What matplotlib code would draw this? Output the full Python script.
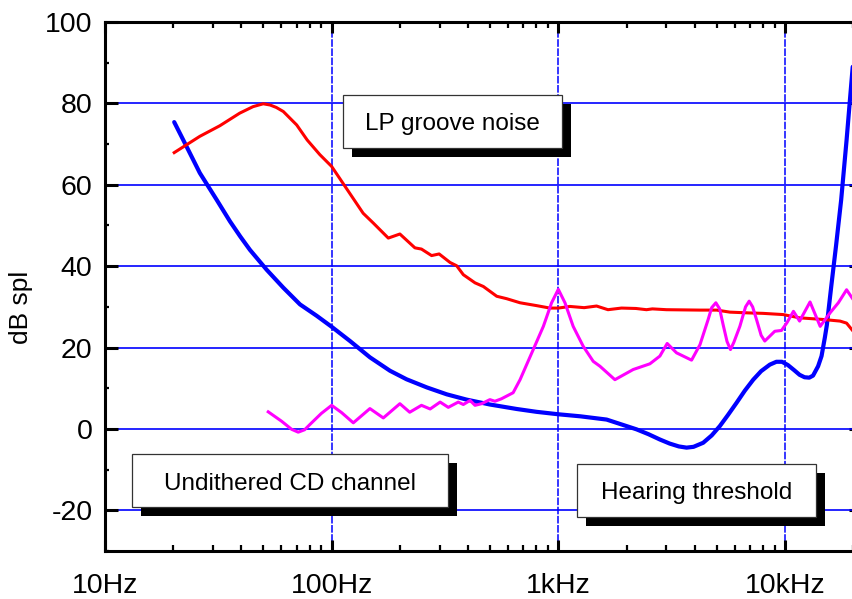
import matplotlib
matplotlib.use("Agg")
import matplotlib.pyplot as plt
from matplotlib.patches import Rectangle
from matplotlib.ticker import FixedLocator, FixedFormatter, MultipleLocator, LogLocator, NullFormatter

plt.rcParams['font.family'] = ['Liberation Sans', 'DejaVu Sans']
plt.rcParams['axes.unicode_minus'] = False

# ---------------- data ----------------
threshold_freq = [20.2, 22.9, 26.2, 31.1, 35.6, 39.5, 43.6, 51.7, 61.2, 72.5, 85.9, 100, 120.5,
                  147.5, 180.8, 214, 263, 322, 394, 499, 655, 802, 1000, 1250, 1633,
                  2213, 2500, 2806, 3100, 3400, 3680, 3950, 4357, 4750, 5160, 5600, 6112,
                  6650, 7244, 7850, 8576, 9164, 9700, 10300, 11000, 11600, 12200, 12800,
                  13300, 14000, 14500, 15000, 15300, 16000, 16800, 17700, 18700, 19900]
threshold_db = [75.4, 69.4, 62.9, 56.3, 51.0, 47.3, 44.0, 39.1, 34.7, 30.6, 27.8, 25.1, 21.6,
                17.6, 14.3, 12.2, 10.2, 8.5, 7.2, 6.0, 4.9, 4.2, 3.6, 3.1, 2.3,
                -0.1, -1.3, -2.6, -3.6, -4.3, -4.6, -4.4, -3.4, -1.6, 0.7, 3.4, 6.4,
                9.4, 12.1, 14.2, 15.8, 16.5, 16.5, 15.7, 14.4, 13.3, 12.7, 12.6,
                13.1, 15.4, 17.9, 22.5, 25.5, 35.0, 45.0, 56.3, 71.0, 89.0]

lp_freq = [20.2, 26.2, 32.1, 39.3, 45.0, 49.9, 53.5, 57.0, 61.2, 70.1, 78.0, 88.7, 100, 114.6, 137.7,
           152.6, 177.8, 200, 233, 249, 276, 298, 333, 356, 381, 429, 467, 535, 592,
           678, 802, 918, 1000, 1125, 1300, 1475, 1656, 1900, 2200, 2449, 2600, 3000,
           4217, 5000, 5715, 7000, 8000, 9820, 11600, 14700, 17500, 18700, 20000]
lp_db = [67.9, 71.9, 74.5, 77.6, 79.2, 79.9, 79.6, 79.0, 78.0, 74.7, 71.0, 67.4, 64.5, 59.6, 53.0,
         50.6, 46.9, 47.9, 44.5, 44.2, 42.6, 43.0, 40.9, 40.1, 37.9, 35.9, 35.0, 32.6, 32.0,
         31.0, 30.3, 29.7, 29.7, 30.1, 29.8, 30.2, 29.3, 29.7, 29.6, 29.3, 29.5, 29.3,
         29.2, 29.2, 28.7, 28.5, 28.4, 28.1, 27.3, 26.9, 26.5, 26.0, 24.0]

cd_freq = [52.5, 60.1, 66.6, 71.2, 76.0, 80.2, 90.0, 100, 110.7, 124.6, 147.5, 169, 200, 221, 249, 272,
           301, 327, 362, 381, 408, 429, 459, 499, 525, 561, 632, 678, 775, 859, 934,
           1000, 1070, 1163, 1288, 1426, 1527, 1777, 2140, 2535, 2806, 3022, 3323, 3872,
           4217, 4583, 4750, 4955, 5150, 5336, 5550, 5749, 5950, 6323, 6700, 6951, 7200,
           7488, 7850, 8145, 8500, 9016, 9652, 10200, 10900, 11600, 12900, 14300, 15800,
           17200, 18700, 20000]
cd_db = [4.2, 1.9, -0.1, -0.8, -0.2, 1.1, 3.8, 5.8, 4.0, 1.5, 5.0, 2.7, 6.2, 4.1, 5.8, 4.9,
         6.6, 5.3, 6.6, 6.0, 7.0, 5.8, 6.2, 7.2, 6.8, 7.4, 8.9, 12.1, 19.5, 25.2, 31.0,
         34.3, 31.0, 25.2, 20.3, 16.6, 15.4, 12.1, 14.6, 16.0, 17.9, 21.0, 18.7, 16.9,
         20.7, 26.9, 29.8, 31.0, 29.5, 25.6, 21.5, 19.5, 21.3, 25.2, 30.0, 31.4, 30.0,
         26.9, 23.0, 21.6, 22.6, 24.0, 24.2, 26.1, 28.9, 26.5, 31.2, 25.2, 28.5,
         31.0, 34.2, 31.8]

x_ticks = [10, 100, 1000, 10000]
x_labels = ["10Hz", "100Hz", "1kHz", "10kHz"]
y_ticks = [-20, 0, 20, 40, 60, 80, 100]
y_labels = ["-20", "0", "20", "40", "60", "80", "100"]

# ---------------- figure ----------------
W, H = 853, 599
fig = plt.figure(figsize=(W / 100, H / 100), dpi=100)
ax = fig.add_axes([105 / W, 1 - 551 / H, 748.2 / W, 529 / H])
ax.set_xscale('log')
ax.set_xlim(10, 20000)
ax.set_ylim(-30, 100)

ax.xaxis.set_major_locator(FixedLocator(x_ticks))
ax.xaxis.set_major_formatter(FixedFormatter(x_labels))
ax.xaxis.set_minor_locator(LogLocator(base=10, subs=range(2, 10)))
ax.xaxis.set_minor_formatter(NullFormatter())
ax.yaxis.set_major_locator(FixedLocator(y_ticks))
ax.yaxis.set_major_formatter(FixedFormatter(y_labels))
ax.yaxis.set_minor_locator(MultipleLocator(10))

ax.yaxis.grid(True, which='major', color='#0000FF', lw=1.2, ls='-', zorder=1)
ax.xaxis.grid(True, which='major', color='#0000FF', lw=1.1, ls=(0, (5, 1)), zorder=1)
ax.set_axisbelow(True)

for s in ['left', 'top', 'bottom']:
    ax.spines[s].set_linewidth(2.2)
    ax.spines[s].set_color('black')
ax.spines['right'].set_visible(False)

ax.tick_params(which='both', direction='in', top=True, right=False, colors='black')
ax.tick_params(axis='x', which='major', length=8, width=2.2, pad=16, labelsize=20.5)
ax.tick_params(axis='x', which='minor', length=4, width=1.6)
ax.tick_params(axis='y', which='major', length=9, width=2.2, pad=9, labelsize=20.5)
ax.tick_params(axis='y', which='minor', length=3, width=1.6)

sec = ax.secondary_yaxis('right')
sec.yaxis.set_major_locator(FixedLocator(y_ticks))
sec.tick_params(direction='in', length=3, width=2.2, labelright=False)
sec.spines['right'].set_visible(False)

ax.set_ylabel('dB spl', fontsize=19, va='center')
ax.yaxis.set_label_coords((21 - 105) / 747, (551 - 307) / 529)

ax.plot(threshold_freq, threshold_db, color='#0000FF', lw=3.0, zorder=3,
        solid_joinstyle='round', solid_capstyle='round')
ax.plot(lp_freq, lp_db, color='#FF0000', lw=2.2, zorder=4, solid_joinstyle='round')
ax.plot(cd_freq, cd_db, color='#FF00FF', lw=2.2, zorder=5, solid_joinstyle='round')

# ---------------- labelled boxes ----------------
boxes = [
    ("LP groove noise", 343.3, 95.0, 561.7, 147.7),
    ("Undithered CD channel", 132.3, 454.3, 448.3, 506.7),
    ("Hearing threshold", 576.7, 464.3, 815.7, 516.7),
]
shadow = 9
for text, x0, y0, x1, y1 in boxes:
    fig.add_artist(Rectangle(((x0 + shadow) / W, 1 - (y1 + shadow) / H), (x1 - x0) / W, (y1 - y0) / H,
                             transform=fig.transFigure, facecolor='black', edgecolor='none', zorder=10))
    fig.add_artist(Rectangle((x0 / W, 1 - y1 / H), (x1 - x0) / W, (y1 - y0) / H,
                             transform=fig.transFigure, facecolor='white', edgecolor='#333333',
                             lw=0.9, zorder=11))
    cx = (x0 + x1) / 2
    cy = (y0 + y1) / 2 + 9
    fig.text(cx / W, 1 - cy / H, text, ha='center', va='baseline', fontsize=17.5,
             color='black', zorder=12)

fig.savefig('out.png', dpi=100)
